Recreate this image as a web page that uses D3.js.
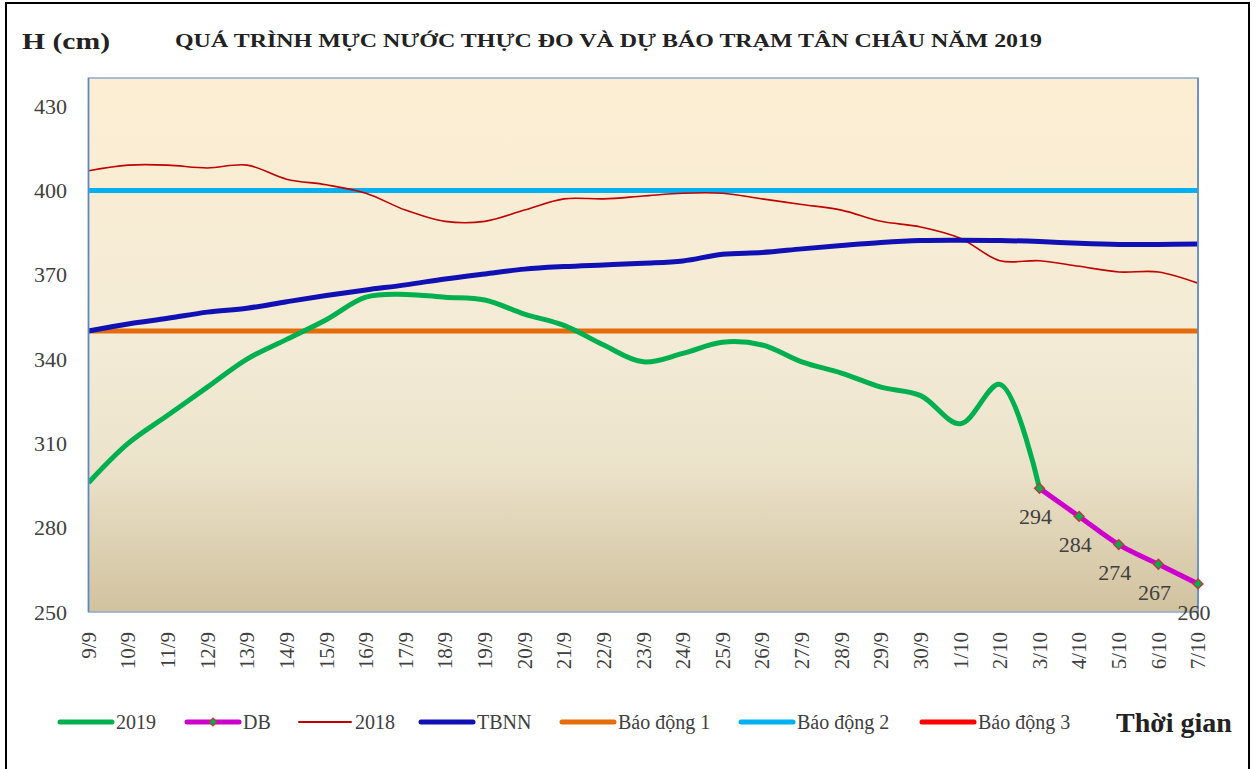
<!DOCTYPE html>
<html>
<head>
<meta charset="utf-8">
<script src="https://cdn.jsdelivr.net/npm/d3@7"></script>
<style>
  html, body { margin: 0; padding: 0; background: #fff; }
  svg { display: block; font-family: 'Liberation Serif', 'Times New Roman', serif; }
</style>
</head>
<body>
<svg id="chart" width="1259" height="769"></svg>
<script>
// --- data ---
const dates = ['9/9', '10/9', '11/9', '12/9', '13/9', '14/9', '15/9', '16/9', '17/9', '18/9',
  '19/9', '20/9', '21/9', '22/9', '23/9', '24/9', '25/9', '26/9', '27/9', '28/9', '29/9',
  '30/9', '1/10', '2/10', '3/10', '4/10', '5/10', '6/10', '7/10'];

// observed 2019 (ends at 3/10)
const obs2019 = [296, 310, 320, 330, 340, 347, 354, 362, 363, 362, 361, 356, 352, 345, 339,
  342, 346, 345, 339, 335, 330, 327, 317, 331, 294];

// forecast (DB) from 3/10
const forecastDates = ['3/10', '4/10', '5/10', '6/10', '7/10'];
const forecast = [294, 284, 274, 267, 260];

const obs2018 = [407, 409, 409, 408, 409, 404, 402, 399, 393, 389, 389, 393, 397, 397, 398,
  399, 399, 397, 395, 393, 389, 387, 383, 375, 375, 373, 371, 371, 367];

const tbnn = [350, 352.5, 354.5, 356.7, 358.1, 360.4, 362.6, 364.6, 366.4, 368.5, 370.3, 372,
  372.9, 373.5, 374.1, 374.9, 377.3, 377.9, 379.2, 380.4, 381.5, 382.2, 382.3, 382.2, 381.8,
  381.2, 380.8, 380.8, 380.9];

const alarmNames = ['Báo động 1', 'Báo động 2', 'Báo động 3'];
const alarmLevels = [350, 400, 450];

const yTicks = [250, 280, 310, 340, 370, 400, 430];

// --- layout ---
const svg = d3.select('#chart');
const plot = { left: 88.5, right: 1198, top: 78, bottom: 612 };

const x = d3.scalePoint().domain(dates).range([plot.left, plot.right]);
const y = d3.scaleLinear().domain([250, 440]).range([plot.bottom, plot.top]);

const C = {
  y2019: '#00B050', db: '#CC00CC', y2018: '#C00000', tbnn: '#1010B4',
  bd1: '#E46C0A', bd2: '#00B0F0', bd3: '#FF0000', text: '#404040'
};
const alarmColors = [C.bd1, C.bd2, C.bd3];

// outer frame
svg.append('rect').attr('x', 6).attr('y', 3).attr('width', 1243).attr('height', 800)
  .attr('fill', 'none').attr('stroke', '#000').attr('stroke-width', 2);

// plot background gradient
const defs = svg.append('defs');
const grad = defs.append('linearGradient').attr('id', 'bg')
  .attr('x1', 0).attr('y1', 0).attr('x2', 0).attr('y2', 1);
[[0, '#FDEED3'], [0.5, '#F3EBD6'], [0.72, '#ECE3CB'], [1, '#D1C29F']].forEach(([o, c]) =>
  grad.append('stop').attr('offset', o).attr('stop-color', c));

defs.append('clipPath').attr('id', 'clip').append('rect')
  .attr('x', plot.left).attr('y', plot.top)
  .attr('width', plot.right - plot.left).attr('height', plot.bottom - plot.top);

svg.append('rect')
  .attr('x', plot.left).attr('y', plot.top)
  .attr('width', plot.right - plot.left).attr('height', plot.bottom - plot.top)
  .attr('fill', 'url(#bg)');

// titles
svg.append('text').attr('x', 22).attr('y', 49)
  .attr('font-size', 24).attr('font-weight', 'bold').attr('fill', '#222')
  .attr('textLength', 88).attr('lengthAdjust', 'spacingAndGlyphs')
  .text('H (cm)');

svg.append('text').attr('x', 175).attr('y', 47)
  .attr('font-size', 19).attr('font-weight', 'bold').attr('fill', '#222')
  .attr('textLength', 867).attr('lengthAdjust', 'spacingAndGlyphs')
  .text('QUÁ TRÌNH MỰC NƯỚC THỰC ĐO VÀ DỰ BÁO TRẠM TÂN CHÂU NĂM 2019');

// y axis labels
svg.append('g').selectAll('text').data(yTicks).join('text')
  .attr('x', 67).attr('y', d => y(d)).attr('dy', '0.35em')
  .attr('text-anchor', 'end').attr('font-size', 22).attr('fill', C.text)
  .text(d => d);

// x axis labels (rotated)
svg.append('g').selectAll('text').data(dates).join('text')
  .attr('transform', d => `translate(${x(d)},632) rotate(-90)`)
  .attr('dy', '0.35em').attr('text-anchor', 'end')
  .attr('font-size', 21).attr('fill', C.text)
  .text(d => d);

// --- series ---
const g = svg.append('g').attr('clip-path', 'url(#clip)');
const curve = d3.curveCatmullRom.alpha(0.5);

// alarm levels
g.selectAll('.alarm').data(alarmLevels).join('line')
  .attr('class', 'alarm')
  .attr('x1', plot.left).attr('x2', plot.right)
  .attr('y1', d => y(d)).attr('y2', d => y(d))
  .attr('stroke', (d, i) => alarmColors[i]).attr('stroke-width', 5);

const line = d3.line().x(d => x(d[0])).y(d => y(d[1])).curve(curve);

g.append('path').datum(dates.map((d, i) => [d, obs2018[i]]))
  .attr('d', line).attr('fill', 'none').attr('stroke', C.y2018).attr('stroke-width', 1.6);

g.append('path').datum(dates.map((d, i) => [d, tbnn[i]]))
  .attr('d', line).attr('fill', 'none').attr('stroke', C.tbnn).attr('stroke-width', 5);

g.append('path').datum(obs2019.map((v, i) => [dates[i], v]))
  .attr('d', line).attr('fill', 'none').attr('stroke', C.y2019).attr('stroke-width', 5);

g.append('path').datum(forecastDates.map((d, i) => [d, forecast[i]]))
  .attr('d', line).attr('fill', 'none').attr('stroke', C.db).attr('stroke-width', 5);

// plot border
svg.append('rect')
  .attr('x', plot.left).attr('y', plot.top)
  .attr('width', plot.right - plot.left).attr('height', plot.bottom - plot.top)
  .attr('fill', 'none').attr('stroke', '#8FA8CC').attr('stroke-width', 1.5);
svg.append('line').attr('x1', plot.left).attr('x2', plot.left)
  .attr('y1', plot.top).attr('y2', plot.bottom).attr('stroke', '#5B87C5').attr('stroke-width', 1.5);
svg.append('line').attr('x1', plot.right).attr('x2', plot.right)
  .attr('y1', plot.top).attr('y2', plot.bottom).attr('stroke', '#5B87C5').attr('stroke-width', 1.5);

// forecast markers and labels
const diamond = d3.symbol().type(d3.symbolDiamond2).size(60);
svg.append('g').selectAll('path').data(forecast).join('path')
  .attr('transform', (d, i) => `translate(${x(forecastDates[i])},${y(d)})`)
  .attr('d', diamond).attr('fill', C.y2019).attr('stroke', '#B0413E').attr('stroke-width', 1.5);

svg.append('g').selectAll('text').data(forecast).join('text')
  .attr('x', (d, i) => x(forecastDates[i]) - 4)
  .attr('y', d => y(d) + 28).attr('dy', '0.35em')
  .attr('text-anchor', 'middle').attr('font-size', 22).attr('fill', C.text)
  .text(d => d);

// --- legend ---
const legendY = 722;
const legendItems = [
  { name: '2019', color: C.y2019, w: 5, x: 60 },
  { name: 'DB', color: C.db, w: 5, x: 187, marker: true },
  { name: '2018', color: C.y2018, w: 2, x: 299 },
  { name: 'TBNN', color: C.tbnn, w: 5, x: 421 },
  { name: alarmNames[0], color: alarmColors[0], w: 5, x: 562 },
  { name: alarmNames[1], color: alarmColors[1], w: 5, x: 741 },
  { name: alarmNames[2], color: alarmColors[2], w: 5, x: 922 }
];
const lg = svg.append('g').selectAll('g').data(legendItems).join('g')
  .attr('transform', d => `translate(${d.x},${legendY})`);
lg.append('line').attr('x1', 0).attr('x2', 52).attr('y1', 0).attr('y2', 0)
  .attr('stroke', d => d.color).attr('stroke-width', d => d.w).attr('stroke-linecap', 'round');
lg.filter(d => d.marker).append('path')
  .attr('transform', 'translate(26,0)')
  .attr('d', d3.symbol().type(d3.symbolDiamond2).size(40))
  .attr('fill', C.y2019).attr('stroke', '#B0413E').attr('stroke-width', 1.2);
lg.append('text').attr('x', 56).attr('y', 0).attr('dy', '0.35em')
  .attr('font-size', 20).attr('fill', C.text).text(d => d.name);

svg.append('text').attr('x', 1116).attr('y', legendY).attr('dy', '0.35em')
  .attr('font-size', 28).attr('font-weight', 'bold').attr('fill', '#222')
  .text('Thời gian');
</script>
</body>
</html>
